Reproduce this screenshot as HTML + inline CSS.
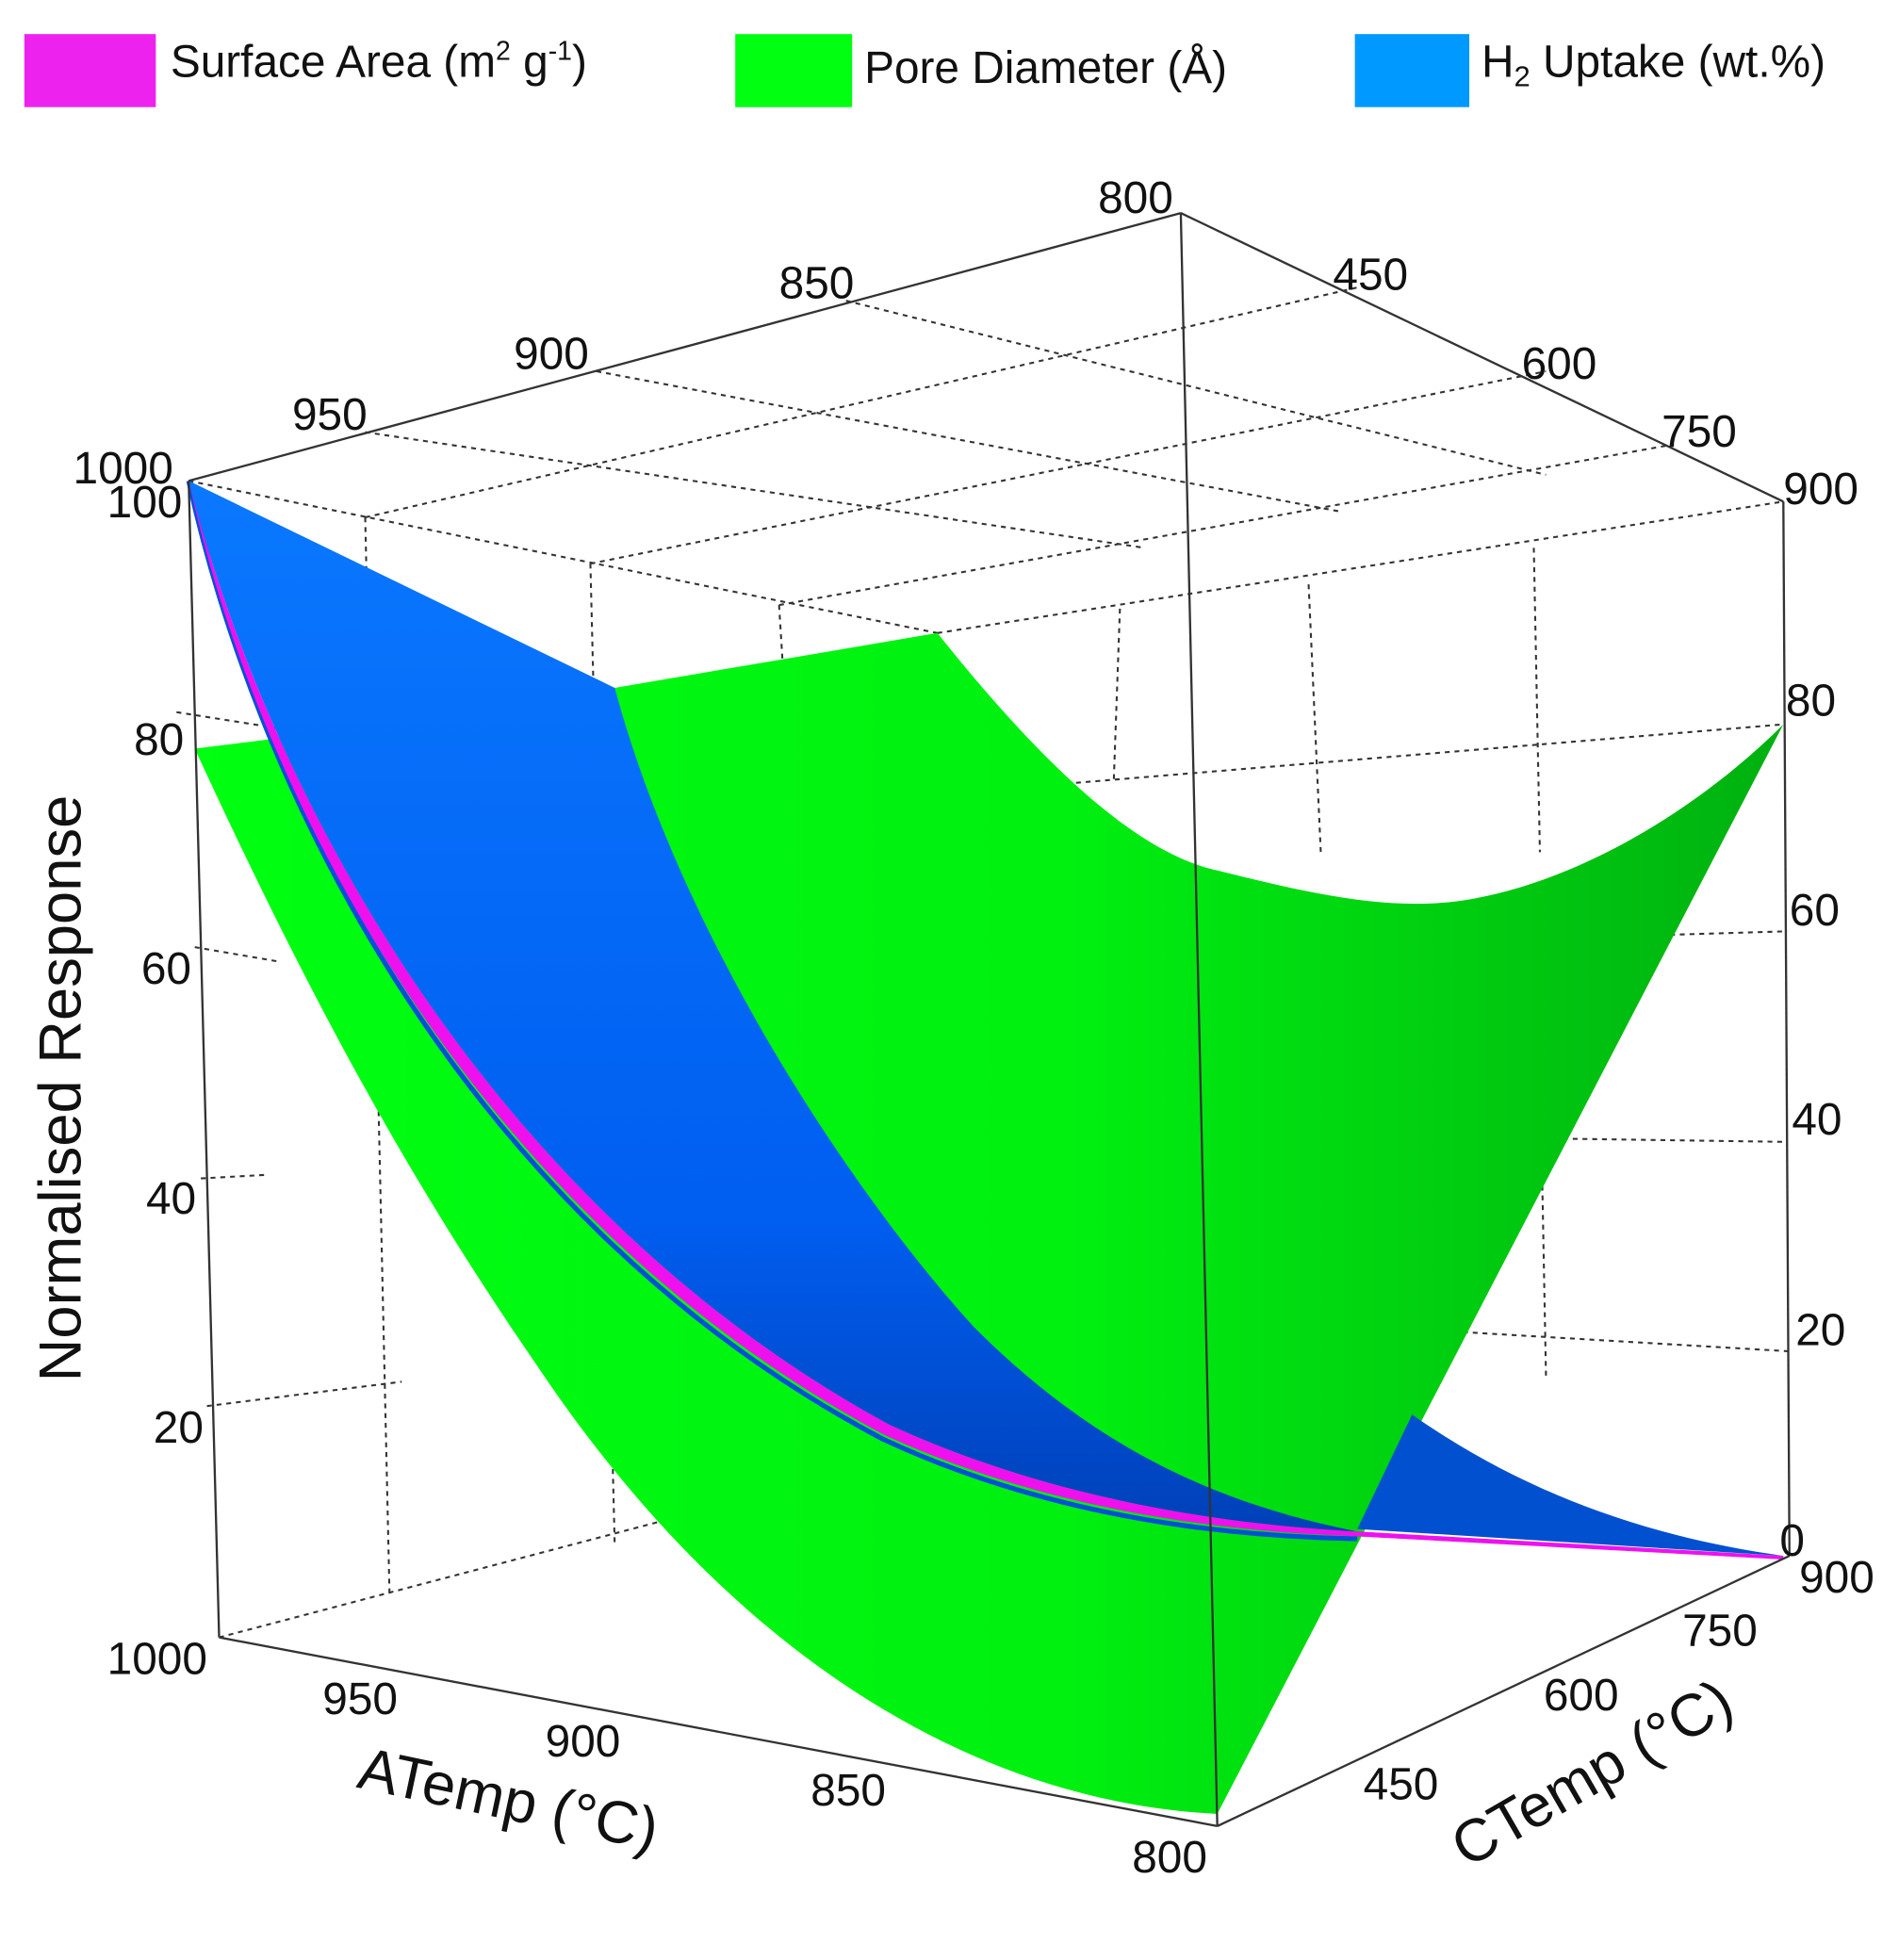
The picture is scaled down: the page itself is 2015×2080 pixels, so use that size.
<!DOCTYPE html>
<html><head><meta charset="utf-8"><style>
html,body{margin:0;padding:0;background:#fff;}
svg{display:block;}
text{font-family:"Liberation Sans",sans-serif;fill:#111;}
</style></head><body>
<svg width="2015" height="2080" viewBox="0 0 1560 1610" preserveAspectRatio="none">
<defs>
<linearGradient id="gg" x1="0" y1="0" x2="1" y2="0">
<stop offset="0" stop-color="#00ff11"/><stop offset="0.55" stop-color="#00f010"/><stop offset="1" stop-color="#00b010"/>
</linearGradient>
<linearGradient id="bg" x1="0" y1="0" x2="0" y2="1">
<stop offset="0" stop-color="#0a78ff"/><stop offset="0.7" stop-color="#005ef0"/><stop offset="1" stop-color="#0040b8"/>
</linearGradient>
</defs>
<!-- legend -->
<rect x="20" y="28" width="108" height="60" fill="#ee22ee"/>
<text x="140" y="63" font-size="37">Surface Area (m<tspan dy="-14" font-size="22">2</tspan><tspan dy="14"> g</tspan><tspan dy="-14" font-size="22">-1</tspan><tspan dy="14">)</tspan></text>
<rect x="604" y="28" width="96" height="60" fill="#00ff11"/>
<text x="710" y="68" font-size="37">Pore Diameter (Å)</text>
<rect x="1113" y="28" width="94" height="60" fill="#0099ff"/>
<text x="1217" y="63" font-size="37">H<tspan dy="8" font-size="24">2</tspan><tspan dy="-8"> Uptake (wt.%)</tspan></text>

<!-- dashed grid -->
<g stroke="#333" stroke-width="1.6" stroke-dasharray="4,4" fill="none">
<line x1="155" y1="395" x2="770" y2="520"/>
<line x1="770" y1="520" x2="1465" y2="412"/>
<line x1="300" y1="355" x2="940" y2="450"/>
<line x1="490" y1="305" x2="1100" y2="420"/>
<line x1="695" y1="247" x2="1270" y2="390"/>
<line x1="300" y1="425" x2="1120" y2="235"/>
<line x1="485" y1="463" x2="1270" y2="305"/>
<line x1="640" y1="497" x2="1375" y2="365"/>
<line x1="300" y1="425" x2="320" y2="1310"/>
<line x1="485" y1="463" x2="505" y2="1270"/>
<line x1="640" y1="497" x2="660" y2="820"/>
<line x1="920" y1="500" x2="915" y2="640"/>
<line x1="1075" y1="480" x2="1085" y2="700"/>
<line x1="1260" y1="450" x2="1265" y2="700"/>
<line x1="1125" y1="760" x2="1128" y2="1240"/>
<line x1="1265" y1="870" x2="1270" y2="1130"/>
<line x1="180" y1="1345" x2="770" y2="1190"/>
<line x1="145" y1="585" x2="240" y2="600"/>
<line x1="160" y1="778" x2="230" y2="790"/>
<line x1="165" y1="968" x2="220" y2="965"/>
<line x1="170" y1="1155" x2="330" y2="1135"/>
<line x1="860" y1="645" x2="1465" y2="595"/>
<line x1="1300" y1="770" x2="1468" y2="765"/>
<line x1="1260" y1="935" x2="1468" y2="938"/>
<line x1="1130" y1="1090" x2="1470" y2="1110"/>
</g>

<!-- green surface -->
<path d="M160,615 L240,605 L505,565 L770,520 C850,620 930,700 1000,715 C1080,735 1140,748 1200,740 C1300,725 1400,660 1465,595 L1000,1490 C800,1480 600,1360 440,1120 C330,960 250,810 160,615 Z" fill="url(#gg)"/>
<!-- pink band with thin blue underline -->
<path d="M155,395 C215,665 390,1005 725,1182 C860,1245 1000,1262 1115,1264" fill="none" stroke="#0050d8" stroke-width="4"/>
<path d="M155,395 C220,650 400,990 730,1170 C860,1230 1000,1252 1115,1258 L1465,1280 L1115,1262 C1000,1258 860,1240 727,1179 C392,1000 213,660 155,395 Z" fill="#ee11ee"/>
<!-- blue main -->
<path d="M155,395 L505,565 C560,770 700,980 800,1090 C900,1190 1000,1235 1115,1258 C1000,1252 860,1230 730,1170 C400,990 220,650 155,395 Z" fill="url(#bg)"/>
<!-- blue right wedge -->
<path d="M1160,1162 C1250,1225 1350,1262 1465,1278 L1115,1256 Z" fill="#0050d0"/>
<path d="M1115,1258 L1465,1278 L1465,1281 L1115,1262 Z" fill="#ee11ee"/>

<!-- cube edges -->
<g stroke="#333" stroke-width="1.8" fill="none">
<line x1="155" y1="395" x2="970" y2="175"/>
<line x1="970" y1="175" x2="1465" y2="412"/>
<line x1="155" y1="395" x2="180" y2="1345"/>
<line x1="1465" y1="412" x2="1470" y2="1278"/>
<line x1="970" y1="175" x2="1000" y2="1500"/>
<line x1="180" y1="1345" x2="1000" y2="1500"/>
<line x1="1000" y1="1500" x2="1470" y2="1278"/>
</g>

<!-- tick labels -->
<g font-size="37">
<text x="60" y="397">1000</text>
<text x="88" y="425">100</text>
<text x="110" y="620">80</text>
<text x="116" y="808">60</text>
<text x="120" y="997">40</text>
<text x="126" y="1185">20</text>
<text x="240" y="353">950</text>
<text x="422" y="303">900</text>
<text x="640" y="245">850</text>
<text x="902" y="175">800</text>
<text x="1095" y="238">450</text>
<text x="1250" y="311">600</text>
<text x="1365" y="367">750</text>
<text x="1465" y="414">900</text>
<text x="1467" y="588">80</text>
<text x="1470" y="760">60</text>
<text x="1472" y="932">40</text>
<text x="1475" y="1105">20</text>
<text x="1462" y="1278">0</text>
<text x="1478" y="1308">900</text>
<text x="1382" y="1352">750</text>
<text x="1268" y="1405">600</text>
<text x="1120" y="1478">450</text>
<text x="88" y="1375">1000</text>
<text x="265" y="1408">950</text>
<text x="448" y="1443">900</text>
<text x="666" y="1483">850</text>
<text x="930" y="1538">800</text>
</g>
<!-- axis titles -->
<text font-size="49" transform="translate(66,1135) rotate(-90)">Normalised Response</text>
<text font-size="49" transform="translate(292,1468) rotate(12)">ATemp (°C)</text>
<text font-size="49" transform="translate(1205,1535) rotate(-30)">CTemp (°C)</text>
</svg>
</body></html>
